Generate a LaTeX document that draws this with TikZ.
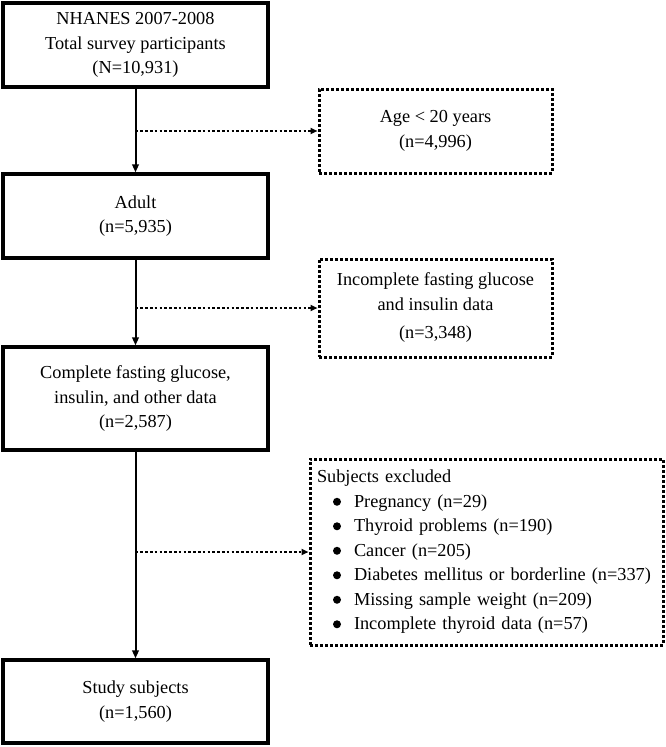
\documentclass[tikz,border=0pt]{standalone}
\usepackage{fontspec}
\setmainfont{Liberation Serif}
\usetikzlibrary{arrows.meta}
\newcommand\bul{\tikz[baseline=0pt]\fill (0pt,5.6pt) circle (4pt);}
\newcommand\itm[1]{\hspace*{16pt}\bul\hspace*{13pt}#1}
\begin{document}
\begin{tikzpicture}[x=1pt,y=-1pt,
  txt/.style={font=\fontsize{18.3pt}{24.5pt}\selectfont, align=center, inner sep=0pt, outer sep=0pt, text=black},
  solidbox/.style={txt, draw, line width=3.2pt, minimum width=265pt},
  dotbox/.style={txt, draw, line width=3pt, dash pattern=on 2.8pt off 2.2pt},
  mainarrow/.style={line width=2pt, -{Triangle[length=8pt,width=6.5pt]}, shorten >=1.6pt},
  dotarrow/.style={line width=2.2pt, dash pattern=on 2.6pt off 2.2pt, -{Triangle[length=7pt,width=6pt]}, shorten >=1.5pt}]
\useasboundingbox[fill=white] (0,0) rectangle (666,747);
\node[solidbox, minimum height=84pt] (b1) at (135.5,45) {NHANES 2007-2008\\Total survey participants\\(N=10,931)};
\node[dotbox, minimum width=233pt, minimum height=84pt] (age) at (435.5,131) {Age < 20 years\\(n=4,996)};
\node[solidbox, minimum height=84pt] (adult) at (135.5,216) {Adult\\(n=5,935)};
\node[dotbox, minimum width=233pt, minimum height=98pt] (inc) at (435.5,308) {Incomplete fasting glucose\\and insulin data\\[4pt](n=3,348)};
\node[solidbox, minimum height=103pt] (comp) at (135.5,398.5) {Complete fasting glucose,\\insulin, and other data\\(n=2,587)};
\node[dotbox, minimum width=353pt, minimum height=186pt, align=left, text width=339pt, inner xsep=7pt] (subj) at (486.5,552) {Subjects excluded\\
\itm{Pregnancy (n=29)}\\
\itm{Thyroid problems (n=190)}\\
\itm{Cancer (n=205)}\\
\itm{Diabetes mellitus or borderline (n=337)}\\
\itm{Missing sample weight (n=209)}\\
\itm{Incomplete thyroid data (n=57)}};
\node[solidbox, minimum height=83pt] (study) at (135.5,701.5) {Study subjects\\(n=1,560)};
\draw[mainarrow] (b1.south) -- (adult.north);
\draw[mainarrow] (adult.south) -- (comp.north);
\draw[mainarrow] (comp.south) -- (study.north);
\draw[dotarrow] (b1.south |- age.west) -- (age.west);
\draw[dotarrow] (adult.south |- inc.west) -- (inc.west);
\draw[dotarrow] (comp.south |- subj.west) -- (subj.west);
\end{tikzpicture}
\end{document}
